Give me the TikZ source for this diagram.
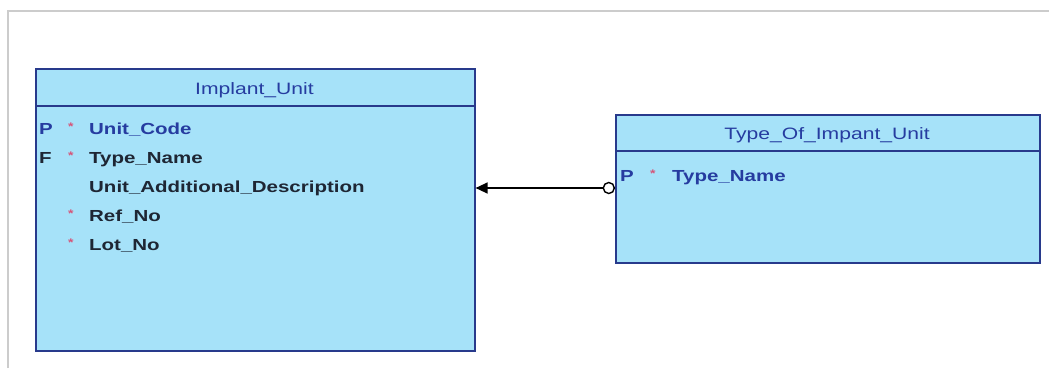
\documentclass[tikz,border=0pt]{standalone}
\usepackage{fontspec}
\newfontfamily\erfont{Liberation Sans}[FakeStretch=1.28]
\usetikzlibrary{arrows.meta}
\definecolor{entfill}{RGB}{166,226,249}
\definecolor{entline}{RGB}{40,58,140}
\definecolor{keyblue}{RGB}{38,60,160}
\definecolor{plain}{RGB}{30,38,52}
\definecolor{mand}{RGB}{214,84,120}
\definecolor{frame}{RGB}{204,204,204}
\tikzset{
  entity/.style={draw=entline, line width=1.6pt, fill=entfill, rectangle,
    inner sep=0pt, anchor=north west},
  title/.style={font=\erfont\fontsize{16.5}{16.5}\selectfont, text=keyblue, anchor=base},
  field/.style={font=\erfont\bfseries\fontsize{16}{16}\selectfont, anchor=base west, inner sep=0pt},
  keyfield/.style={field, text=keyblue},
  plainfield/.style={field, text=plain},
  star/.style={font=\erfont\bfseries\fontsize{11}{11}\selectfont, text=mand, anchor=base west, inner sep=0pt},
  optional/.style={circle, draw=black, fill=white, line width=1.4pt, minimum size=11pt, inner sep=0pt},
}
\begin{document}
\begin{tikzpicture}[x=1pt, y=-1pt]
  \useasboundingbox (0,0) rectangle (1049,368);
  % canvas frame
  \draw[frame, line width=1.5pt] (8,368) -- (8,11) -- (1049,11);

  % entity Implant_Unit
  \node[entity, minimum width=439pt, minimum height=282pt] (iu) at (35,68) {};
  \draw[entline, line width=1.6pt] (iu.west |- 0,106) -- (iu.east |- 0,106);
  \node[title] (iut) at (254.5,94) {Implant\_Unit};
  \node[keyfield] (iup1) at (39,134) {P};
  \node[star] (ius1) at (68,130) {*};
  \node[keyfield] (iuf1) at (89,134) {Unit\_Code};
  \node[plainfield] (iup2) at (39,163) {F};
  \node[star] (ius2) at (68,159) {*};
  \node[plainfield] (iuf2) at (89,163) {Type\_Name};
  \node[plainfield] (iuf3) at (89,192) {Unit\_Additional\_Description};
  \node[star] (ius4) at (68,217) {*};
  \node[plainfield] (iuf4) at (89,221) {Ref\_No};
  \node[star] (ius5) at (68,246) {*};
  \node[plainfield] (iuf5) at (89,250) {Lot\_No};

  % entity Type_Of_Impant_Unit
  \node[entity, minimum width=424pt, minimum height=148pt] (tu) at (615,114) {};
  \draw[entline, line width=1.6pt] (tu.west |- 0,151) -- (tu.east |- 0,151);
  \node[title] (tut) at (827,139) {Type\_Of\_Impant\_Unit};
  \node[keyfield] (tup1) at (620,181) {P};
  \node[star] (tus1) at (650,177) {*};
  \node[keyfield] (tuf1) at (672,181) {Type\_Name};

  % relationship: optional end on the parent, arrow into the child
  \node[optional, anchor=east] (opt) at (tu.west |- 0,188) {};
  \draw[line width=1.4pt, -{Triangle[length=12pt, width=11pt]}] (opt.west) -- (iu.east |- opt.west);
\end{tikzpicture}
\end{document}
